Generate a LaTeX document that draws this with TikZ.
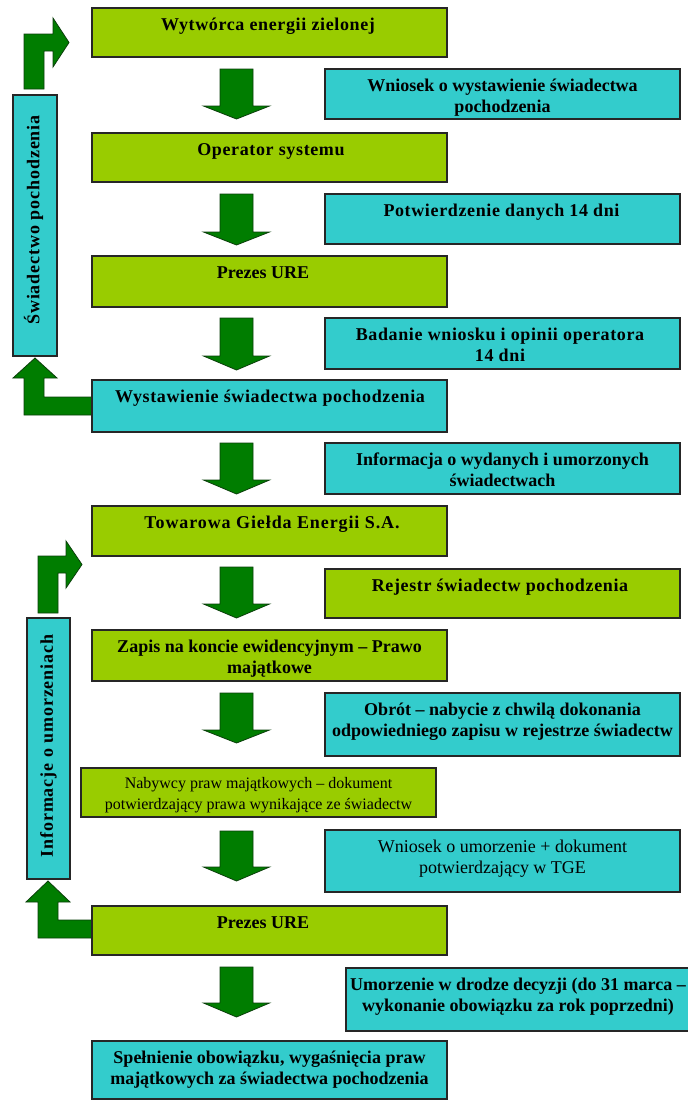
\documentclass[tikz,border=0pt]{standalone}
\usepackage{fontspec}
\setmainfont{Liberation Serif}
\newfontfamily\spacedfont[LetterSpace=5]{Liberation Serif}
\newfontfamily\midspaced[LetterSpace=3.5]{Liberation Serif}
\definecolor{limebox}{HTML}{99CC00}
\definecolor{tealbox}{HTML}{33CCCC}
\definecolor{arrowgreen}{HTML}{007D00}
\definecolor{arrowedge}{HTML}{0B3F0B}
\tikzset{
  box/.style={draw=black!85, line width=1.2pt, inner sep=0pt, outer sep=0pt, anchor=north west},
  gbox/.style={box, fill=limebox},
  cbox/.style={box, fill=tealbox},
  txt/.style={align=center, inner sep=0pt, font=\fontsize{18}{20.5}\selectfont\bfseries},
  sptxt/.style={txt, font=\midspaced\fontsize{18}{20.5}\selectfont\bfseries},
  wtxt/.style={txt, font=\spacedfont\fontsize{18}{20.5}\selectfont\bfseries},
  regtxt/.style={txt, font=\fontsize{18}{20.5}\selectfont},
  smalltxt/.style={txt, font=\fontsize{16}{20.5}\selectfont},
  bartxt/.style={align=center, inner sep=0pt, text height=12.5pt, text depth=4pt, rotate=90, font=\spacedfont\fontsize{18}{20}\selectfont\bfseries},
  blockarrow/.style={fill=arrowgreen, draw=arrowedge, line width=0.8pt, line join=miter},
}
\newcommand\mybox[6]{\node[#2, minimum width={#5-#3}, minimum height={#6-#4}] (#1) at (#3,#4) {};}
\newcommand\tx[6]{\node[#2, anchor=base] (#1) at (#3,{#4+22.5+(#5-1)*20.5}) {#6};}
\newcommand\dnarrow[3]{\draw[blockarrow] (220,#1) -- (253,#1) -- (253,#2) -- (269.5,#2) -- (236.5,#3) -- (203.5,#2) -- (220,#2) -- cycle;}
\begin{document}
\begin{tikzpicture}[x=1pt,y=-1pt]
\useasboundingbox (0,0) rectangle (688,1101);
\fill[white] (0,0) rectangle (688,1101);

% bent arrows (feedback)
\draw[blockarrow] (24,89) -- (24,34) -- (53,34) -- (53,18) -- (69,42.5) -- (53,67) -- (53,51) -- (44,51) -- (44,89) -- cycle;
\draw[blockarrow] (35,358) -- (57,378) -- (44,378) -- (44,397) -- (93,397) -- (93,415) -- (24,415) -- (24,378) -- (13,378) -- cycle;
\draw[blockarrow] (38,613) -- (38,556) -- (66,556) -- (66,541) -- (82,564.5) -- (66,588) -- (66,573) -- (58,573) -- (58,613) -- cycle;
\draw[blockarrow] (48,881) -- (70,902) -- (58,902) -- (58,920) -- (93,920) -- (93,938) -- (38,938) -- (38,902) -- (26,902) -- cycle;

% down arrows
\dnarrow{69}{106}{119}
\dnarrow{194}{232}{245}
\dnarrow{318}{356}{370}
\dnarrow{443}{480}{494}
\dnarrow{567}{604}{618}
\dnarrow{693}{730}{743}
\dnarrow{831}{867}{881}
\dnarrow{967}{1003}{1017}

% left column boxes
\mybox{b1}{gbox}{92}{8}{447}{57}
\mybox{b2}{gbox}{92}{133}{447}{182}
\mybox{b3}{gbox}{92}{256}{447}{307}
\mybox{b4}{cbox}{92}{380}{447}{432}
\mybox{b5}{gbox}{92}{506}{447}{556}
\mybox{b6}{gbox}{92}{630}{447}{681}
\mybox{b7}{gbox}{81}{768}{436}{817}
\mybox{b8}{gbox}{92}{906}{447}{955}
\mybox{b9}{cbox}{92}{1041}{447}{1099}

% right column boxes
\mybox{r1}{cbox}{325}{69}{680}{119}
\mybox{r2}{cbox}{325}{194}{680}{244}
\mybox{r3}{cbox}{325}{318}{680}{369}
\mybox{r4}{cbox}{325}{443}{680}{494}
\mybox{r5}{gbox}{325}{569}{680}{618}
\mybox{r6}{cbox}{325}{693}{680}{756}
\mybox{r7}{cbox}{325}{830}{680}{892}
\mybox{r8}{cbox}{346}{968}{692}{1031}

% side bars
\mybox{bar1}{cbox}{13}{95}{57}{356}
\mybox{bar2}{cbox}{27}{618}{70}{879}

% texts (x, box top, number of lines)
\tx{t1}{sptxt}{268}{8}{1}{Wytwórca energii zielonej}
\tx{t2}{sptxt}{271}{133}{1}{Operator systemu}
\tx{t3}{txt}{263}{256}{1}{Prezes URE}
\tx{t4}{sptxt}{270}{380}{1}{Wystawienie świadectwa pochodzenia}
\tx{t5}{wtxt}{272}{506}{1}{Towarowa Giełda Energii S.A.}
\tx{t6}{txt}{269.5}{630}{2}{Zapis na koncie ewidencyjnym – Prawo\\majątkowe}
\tx{t7}{smalltxt}{258.5}{766}{2}{Nabywcy praw majątkowych – dokument\\potwierdzający prawa wynikające ze świadectw}
\tx{t8}{txt}{263}{906}{1}{Prezes URE}
\tx{t9}{txt}{269.5}{1041}{2}{Spełnienie obowiązku, wygaśnięcia praw\\majątkowych za świadectwa pochodzenia}

\tx{s1}{txt}{502.5}{69}{2}{Wniosek o wystawienie świadectwa\\pochodzenia}
\tx{s2}{sptxt}{501.5}{194}{1}{Potwierdzenie danych 14 dni}
\tx{s3}{sptxt}{500}{318}{2}{Badanie wniosku i opinii operatora\\14 dni}
\tx{s4}{txt}{502.5}{443}{2}{Informacja o wydanych i umorzonych\\świadectwach}
\tx{s5}{sptxt}{500}{569}{1}{Rejestr świadectw pochodzenia}
\tx{s6}{txt}{502.5}{693}{2}{Obrót – nabycie z chwilą dokonania\\odpowiedniego zapisu w rejestrze świadectw}
\tx{s7}{regtxt}{502.5}{830}{2}{Wniosek o umorzenie + dokument\\potwierdzający w TGE}
\tx{s8}{txt}{518}{968}{2}{Umorzenie w drodze decyzji (do 31 marca –\\wykonanie obowiązku za rok poprzedni)}

\node[bartxt] (v1) at (35,220) {Świadectwo pochodzenia};
\node[bartxt] (v2) at (48.5,746) {Informacje o umorzeniach};
\end{tikzpicture}
\end{document}
